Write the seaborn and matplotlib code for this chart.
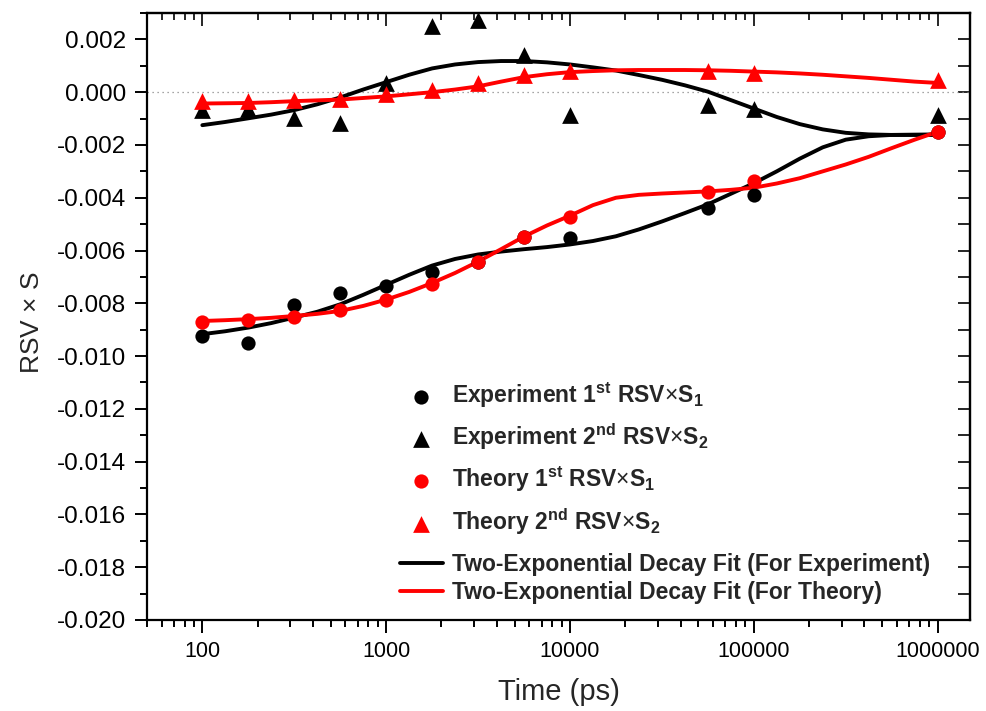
import matplotlib
matplotlib.use("Agg")
import matplotlib.pyplot as plt
import seaborn as sns
import numpy as np
import pandas as pd
from matplotlib.ticker import (MultipleLocator, LogLocator, NullFormatter, FixedLocator,
                               FixedFormatter, FormatStrFormatter)

# ---------------- data ----------------
time_ps = [100, 178, 316, 562, 1000, 1778, 3162, 5623, 10000, 56234, 100000, 1000000]
exp_1st = [-0.00923, -0.00949, -0.00806, -0.00760, -0.00735, -0.00681, -0.00644, -0.00548,
           -0.00553, -0.00439, -0.00389, -0.00152]
exp_2nd = [-0.00066, -0.00063, -0.00099, -0.00118, 0.00033, 0.00252, 0.00272, 0.00139,
           -0.00087, -0.00049, -0.00062, -0.00085]
th_1st = [-0.00869, -0.00863, -0.00850, -0.00826, -0.00787, -0.00726, -0.00644, -0.00548,
          -0.00473, -0.00380, -0.00338, -0.00150]
th_2nd = [-0.00035, -0.00033, -0.00029, -0.00024, -0.00007, 0.00010, 0.00034, 0.00064,
          0.00079, 0.00081, 0.00073, 0.00045]

# fitted curves at 1/8-decade steps
fit_time = [100, 133, 178, 237, 316, 422, 562, 750, 1000, 1334, 1778, 2371, 3162, 4217,
            5623, 7499, 10000, 13335, 17783, 23714, 31623, 42170, 56234, 74989, 100000,
            133352, 177828, 237137, 316228, 421697, 562341, 749894, 1000000]
fit_exp_1st = [-0.00917, -0.00906, -0.00892, -0.00875, -0.00854, -0.00832, -0.00804, -0.00768,
               -0.00730, -0.00692, -0.00657, -0.00632, -0.00615, -0.00604, -0.00595, -0.00587,
               -0.00577, -0.00564, -0.00546, -0.00520, -0.00490, -0.00458, -0.00425, -0.00385,
               -0.00345, -0.00300, -0.00252, -0.00209, -0.00180, -0.00167, -0.00162, -0.00161,
               -0.00160]
fit_exp_2nd = [-0.00125, -0.00113, -0.00099, -0.00085, -0.00068, -0.00046, -0.00020, 0.00010,
               0.00038, 0.00066, 0.00090, 0.00105, 0.00114, 0.00118, 0.00118, 0.00113,
               0.00105, 0.00094, 0.00082, 0.00065, 0.00047, 0.00026, 0.00002, -0.00030,
               -0.00062, -0.00094, -0.00121, -0.00141, -0.00154, -0.00160, -0.00162, -0.00162,
               -0.00162]
fit_th_1st = [-0.00867, -0.00864, -0.00860, -0.00855, -0.00848, -0.00840, -0.00829, -0.00810,
              -0.00786, -0.00757, -0.00723, -0.00685, -0.00642, -0.00595, -0.00547, -0.00505,
              -0.00468, -0.00428, -0.00400, -0.00389, -0.00384, -0.00380, -0.00376, -0.00370,
              -0.00362, -0.00346, -0.00326, -0.00300, -0.00274, -0.00245, -0.00212, -0.00180,
              -0.00150]
fit_th_2nd = [-0.00043, -0.00042, -0.00041, -0.00038, -0.00034, -0.00031, -0.00028, -0.00022,
              -0.00016, -0.00008, 0.00000, 0.00010, 0.00022, 0.00040, 0.00057, 0.00068,
              0.00076, 0.00080, 0.00083, 0.00084, 0.00084, 0.00084, 0.00083, 0.00081,
              0.00078, 0.00075, 0.00071, 0.00066, 0.00060, 0.00054, 0.00047, 0.00040, 0.00035]

x_tick_values = [100, 1000, 10000, 100000, 1000000]
x_tick_labels = ["100", "1000", "10000", "100000", "1000000"]

lab_exp1 = r"Experiment 1$^{\mathbf{st}}$ RSV$\times$S$_{\mathbf{1}}$"
lab_exp2 = r"Experiment 2$^{\mathbf{nd}}$ RSV$\times$S$_{\mathbf{2}}$"
lab_th1 = r"Theory 1$^{\mathbf{st}}$ RSV$\times$S$_{\mathbf{1}}$"
lab_th2 = r"Theory 2$^{\mathbf{nd}}$ RSV$\times$S$_{\mathbf{2}}$"
lab_fit_exp = "Two-Exponential Decay Fit (For Experiment)"
lab_fit_th = "Two-Exponential Decay Fit (For Theory)"

# ---------------- style ----------------
sns.set_style("ticks")
plt.rcParams["font.family"] = ["Liberation Sans", "DejaVu Sans"]
plt.rcParams["axes.unicode_minus"] = False
plt.rcParams["mathtext.fontset"] = "custom"
plt.rcParams["mathtext.rm"] = "Liberation Sans"
plt.rcParams["mathtext.it"] = "Liberation Sans:italic"
plt.rcParams["mathtext.bf"] = "Liberation Sans:bold"

RED = "#ff0000"
BLACK = "#000000"

fig = plt.figure(figsize=(9.87, 7.11), dpi=100)
ax = fig.add_axes([147 / 987, 1 - 620 / 711, (970 - 147) / 987, (620 - 13) / 711])

ax.axhline(0, color="#888888", ls=(0, (1, 3)), lw=0.9, zorder=1)

LW = 2.8
sns.lineplot(x=fit_time, y=fit_exp_1st, color=BLACK, lw=LW, ax=ax, sort=False,
             estimator=None, label=lab_fit_exp, zorder=2)
sns.lineplot(x=fit_time, y=fit_exp_2nd, color=BLACK, lw=LW, ax=ax, sort=False,
             estimator=None, zorder=2)
sns.lineplot(x=fit_time, y=fit_th_1st, color=RED, lw=LW, ax=ax, sort=False,
             estimator=None, label=lab_fit_th, zorder=2)
sns.lineplot(x=fit_time, y=fit_th_2nd, color=RED, lw=LW, ax=ax, sort=False,
             estimator=None, zorder=2)

S_CIRC = 105
S_TRI = 145
sns.scatterplot(x=time_ps, y=exp_1st, marker="o", color=BLACK, s=S_CIRC, linewidth=0,
                ax=ax, label=lab_exp1, zorder=3)
sns.scatterplot(x=time_ps, y=exp_2nd, marker="^", color=BLACK, s=S_TRI, linewidth=0,
                ax=ax, label=lab_exp2, zorder=3)
sns.scatterplot(x=time_ps, y=th_1st, marker="o", color=RED, s=S_CIRC, linewidth=0,
                ax=ax, label=lab_th1, zorder=4)
sns.scatterplot(x=time_ps, y=th_2nd, marker="^", color=RED, s=S_TRI, linewidth=0,
                ax=ax, label=lab_th2, zorder=4)

ax.set_xscale("log")
ax.set_xlim(50, 1.5e6)
ax.set_ylim(-0.020, 0.003)

ax.xaxis.set_major_locator(FixedLocator(x_tick_values))
ax.xaxis.set_major_formatter(FixedFormatter(x_tick_labels))
ax.xaxis.set_minor_locator(LogLocator(base=10, subs=np.arange(2, 10)))
ax.xaxis.set_minor_formatter(NullFormatter())
ax.yaxis.set_major_locator(MultipleLocator(0.002))
ax.yaxis.set_minor_locator(MultipleLocator(0.001))
ax.yaxis.set_major_formatter(FormatStrFormatter("%.3f"))

ax.tick_params(which="both", direction="out", top=False, right=False, width=1.4, colors="black")
ax.tick_params(which="major", length=9, pad=6)
ax.tick_params(which="minor", length=5)
ax.tick_params(axis="x", labelsize=15.5)
ax.tick_params(axis="y", labelsize=17.5)

for sp in ax.spines.values():
    sp.set_linewidth(1.6)
    sp.set_color("black")

# top axis: inward ticks, no labels
top = ax.secondary_xaxis("top")
top.xaxis.set_major_locator(FixedLocator(x_tick_values))
top.xaxis.set_minor_locator(LogLocator(base=10, subs=np.arange(2, 10)))
top.xaxis.set_major_formatter(NullFormatter())
top.xaxis.set_minor_formatter(NullFormatter())
top.tick_params(which="both", direction="in", width=1.4)
top.tick_params(which="major", length=9)
top.tick_params(which="minor", length=5)
top.spines["top"].set_linewidth(1.6)

# right axis: inward ticks, no labels
right = ax.secondary_yaxis("right")
right.yaxis.set_major_locator(MultipleLocator(0.001))
right.yaxis.set_major_formatter(NullFormatter())
right.tick_params(which="both", direction="in", width=1.4, length=9)
right.spines["right"].set_linewidth(1.6)

ax.set_xlabel("Time (ps)", fontsize=21, labelpad=12)
ax.set_ylabel(r"RSV $\times$ S", fontsize=19)
ax.yaxis.set_label_coords(-0.125, 0.49)

handles, labels = ax.get_legend_handles_labels()
hmap = dict(zip(labels, handles))
leg_prop = {"family": "Liberation Sans", "weight": "bold", "size": 16.5}

order1 = [lab_exp1, lab_exp2, lab_th1, lab_th2]
leg1 = ax.legend([hmap[l] for l in order1], order1, loc="upper left",
                 bbox_to_anchor=(0.307, 0.395), frameon=False, borderpad=0,
                 borderaxespad=0, handlelength=1.9, handletextpad=0.4,
                 labelspacing=0.53, prop=leg_prop)
ax.add_artist(leg1)

order2 = [lab_fit_exp, lab_fit_th]
leg2 = ax.legend([hmap[l] for l in order2], order2, loc="upper left",
                 bbox_to_anchor=(0.307, 0.111), frameon=False, borderpad=0,
                 borderaxespad=0, handlelength=1.9, handletextpad=0.4,
                 labelspacing=0.25, prop=leg_prop)

fig.savefig("out.png", dpi=100)
